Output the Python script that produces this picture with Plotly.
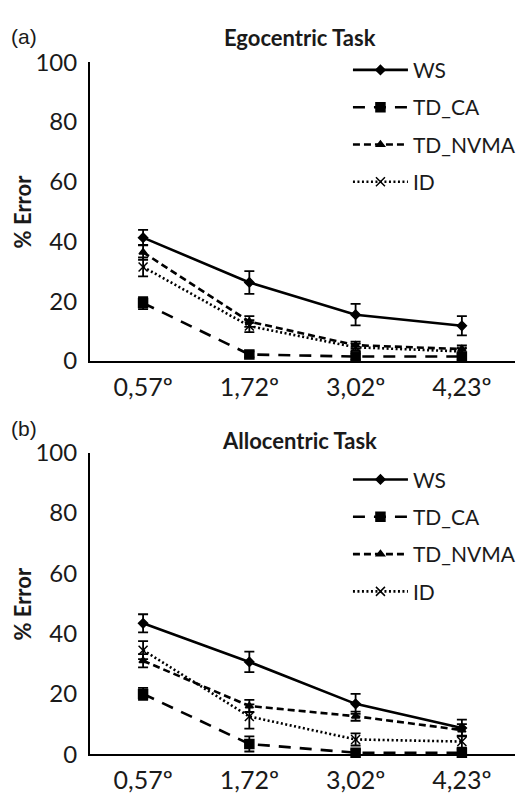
import plotly.graph_objects as go

cats = ["0,57º", "1,72º", "3,02º", "4,23º"]
series_names = ["WS", "TD_CA", "TD_NVMA", "ID"]

ego_ws = [41.3, 26.3, 15.5, 11.8]
ego_ws_err = [2.6, 3.8, 3.6, 3.2]
ego_tdca = [19.4, 2.2, 1.5, 1.5]
ego_tdca_err = [2.0, 1.0, 1.0, 1.0]
ego_tdnvma = [36.4, 13.2, 5.3, 4.0]
ego_tdnvma_err = [2.5, 1.8, 1.2, 1.2]
ego_id = [31.5, 11.7, 4.6, 3.2]
ego_id_err = [3.2, 2.0, 1.2, 1.0]

allo_ws = [43.4, 30.6, 16.7, 8.7]
allo_ws_err = [3.0, 3.4, 3.3, 2.8]
allo_tdca = [20.0, 3.4, 0.5, 0.5]
allo_tdca_err = [2.0, 2.5, 1.0, 1.0]
allo_tdnvma = [31.0, 16.0, 12.6, 8.0]
allo_tdnvma_err = [2.2, 2.0, 1.5, 2.0]
allo_id = [34.5, 12.5, 4.9, 4.2]
allo_id_err = [3.0, 4.0, 2.0, 2.0]

styles = {
    "WS": dict(dash="solid", symbol="diamond", size=7, width=2.6),
    "TD_CA": dict(dash="12px,9px", symbol="square", size=9, width=2.6),
    "TD_NVMA": dict(dash="7px,4px", symbol="triangle-up", size=7, width=2.6),
    "ID": dict(dash="2px,2.5px", symbol="x-thin-open", size=9, width=2.6),
}

FONT = "Lato"
TXT = "#1a1a1a"
fig = go.Figure()

panels = [
    ("x", "y", "legend", [ego_ws, ego_tdca, ego_tdnvma, ego_id],
     [ego_ws_err, ego_tdca_err, ego_tdnvma_err, ego_id_err]),
    ("x2", "y2", "legend2", [allo_ws, allo_tdca, allo_tdnvma, allo_id],
     [allo_ws_err, allo_tdca_err, allo_tdnvma_err, allo_id_err]),
]

for xa, ya, leg, vals, errs in panels:
    for name, v, e in zip(series_names, vals, errs):
        s = styles[name]
        fig.add_trace(go.Scatter(
            x=cats, y=v, name=name, xaxis=xa, yaxis=ya, legend=leg,
            legendgroup=leg + name, mode="lines+markers", cliponaxis=False,
            line=dict(color="black", width=s["width"], dash=s["dash"]),
            marker=dict(symbol=s["symbol"], size=s["size"], color="black",
                        line=dict(color="black", width=1.5)),
            error_y=dict(type="data", array=e, visible=True, color="black",
                         thickness=1.8, width=5),
        ))

axis_common_x = dict(type="category", range=[-0.5, 3.5], showgrid=False,
                     showline=True, linecolor="black", linewidth=2,
                     ticks="", tickfont=dict(family=FONT, size=25, color=TXT),
                     zeroline=False, domain=[91 / 521, 1.0], ticklabelstandoff=3)
axis_common_y = dict(range=[0, 100], showgrid=False, showline=True,
                     linecolor="black", linewidth=2, ticks="", dtick=20,
                     tickfont=dict(family=FONT, size=24, color=TXT),
                     zeroline=False, ticklabelstandoff=6)

leg_common = dict(xanchor="left", yanchor="top", traceorder="grouped",
                  tracegroupgap=7, itemwidth=55, itemsizing="trace",
                  font=dict(family=FONT, size=21, color=TXT), bgcolor="rgba(0,0,0,0)")

fig.update_layout(
    width=521, height=800,
    margin=dict(l=0, r=0, t=0, b=0),
    plot_bgcolor="white", paper_bgcolor="white",
    xaxis=dict(**axis_common_x, anchor="y"),
    yaxis=dict(**axis_common_y, anchor="x", domain=[1 - 358 / 800, 1 - 48 / 800]),
    xaxis2=dict(**axis_common_x, anchor="y2"),
    yaxis2=dict(**axis_common_y, anchor="x2", domain=[1 - 766 / 800, 1 - 453 / 800]),
    legend=dict(x=352 / 521, y=1 - 35 / 800, **leg_common),
    legend2=dict(x=352 / 521, y=1 - 460 / 800, **leg_common),
    annotations=[
        dict(text="<b>Egocentric Task</b>", x=303 / 521, y=1 - 22 / 800, xref="paper", yref="paper",
             yanchor="middle", showarrow=False, font=dict(family=FONT, size=22, color=TXT)),
        dict(text="<b>Allocentric Task</b>", x=303 / 521, y=1 - 440 / 800, xref="paper", yref="paper",
             yanchor="middle", showarrow=False, font=dict(family=FONT, size=22, color=TXT)),
        dict(text="(a)", x=9 / 521, y=1 - 21 / 800, xref="paper", yref="paper", xanchor="left",
             yanchor="middle", showarrow=False, font=dict(family="Liberation Sans", size=21, color=TXT)),
        dict(text="(b)", x=9 / 521, y=1 - 428 / 800, xref="paper", yref="paper", xanchor="left",
             yanchor="middle", showarrow=False, font=dict(family="Liberation Sans", size=21, color=TXT)),
        dict(text="<b>% Error</b>", x=23 / 521, y=1 - 203 / 800, xref="paper", yref="paper",
             xanchor="center", yanchor="middle", textangle=-90, showarrow=False,
             font=dict(family=FONT, size=22, color=TXT)),
        dict(text="<b>% Error</b>", x=23 / 521, y=1 - 610 / 800, xref="paper", yref="paper",
             xanchor="center", yanchor="middle", textangle=-90, showarrow=False,
             font=dict(family=FONT, size=22, color=TXT)),
    ],
)

fig.write_html("out.html")
